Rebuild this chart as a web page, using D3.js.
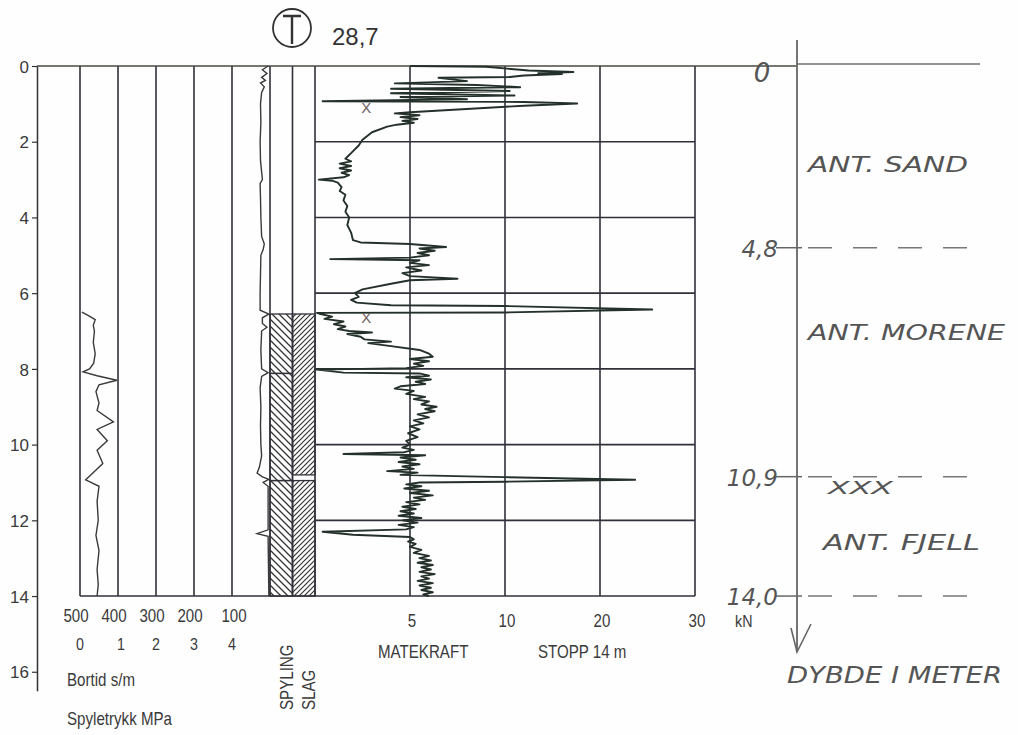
<!DOCTYPE html>
<html><head><meta charset="utf-8">
<script src="https://cdn.jsdelivr.net/npm/d3@7"></script>
<style>
body{margin:0;background:#fff;}
svg{display:block;background:#fefefe;}
text{font-family:"Liberation Sans",Arial,sans-serif;fill:#3a3a3a;}
.hand{font-family:"DejaVu Sans",sans-serif;font-style:italic;font-weight:300;fill:#555;}
</style></head><body>
<svg id="c" width="1018" height="735"></svg>
<script>
// ---------- data ----------
const depthTicks=[0,2,4,6,8,10,12,14,16];
const bortidTicks=[500,400,300,200,100];
const bortidLines=[500,400,300,200,100,0];
const spyleTicks=[0,1,2,3,4];
const kraftTicks=[5,10,20,30];
const kraftGrid=[2,4,6,8,10,12];
const columns=["SPYLING","SLAG"];
const spylingIntervals=[[6.55,8.12],[8.12,10.95],[10.95,14]];
const slagIntervals=[[6.55,10.8],[10.95,14]];
const stoneMarks=[[1.08,2.7],[6.62,2.7]];
const boundaries=[4.8,10.9,14.0];
const boundaryLabels=["4,8","10,9","14,0"];
const layerNames=["ANT. SAND","ANT. MORENE","ANT. FJELL"];
const title="28,7";

// matekraft [depth m, kN]
const matekraft=[
[0.00,5.0],[0.02,9.0],[0.12,12.5],[0.16,17.2],[0.19,13.5],[0.21,16.0],[0.25,12.0],[0.29,10.5],[0.31,6.5],
[0.40,8.0],[0.46,4.2],[0.50,8.5],[0.56,11.6],[0.60,4.0],[0.66,10.5],[0.72,4.0],[0.78,11.0],[0.82,4.5],
[0.88,8.0],[0.93,0.4],[0.95,12.0],[0.99,17.6],[1.05,12.0],[1.22,5.0],[1.25,4.2],[1.30,5.5],[1.35,4.5],
[1.40,5.4],[1.45,4.6],[1.50,5.2],[1.55,4.3],[1.60,3.8],[1.75,3.0],[1.95,2.5],[2.10,2.3],[2.30,1.9],
[2.45,1.6],[2.52,1.9],[2.58,1.3],[2.64,1.9],[2.70,1.3],[2.76,1.9],[2.82,1.4],[2.88,1.8],[2.94,1.5],
[3.00,0.2],[3.03,0.9],[3.08,1.2],[3.20,1.4],[3.30,1.3],[3.40,1.6],[3.55,1.5],[3.70,1.7],[3.85,1.6],
[4.00,1.8],[4.20,1.7],[4.40,1.9],[4.60,2.0],[4.66,2.4],[4.70,5.0],[4.78,6.9],[4.82,5.5],[4.88,6.3],
[4.94,5.4],[5.00,6.0],[5.06,5.0],[5.10,0.8],[5.13,5.5],[5.20,5.0],[5.26,6.0],[5.32,4.8],[5.40,5.6],
[5.47,4.6],[5.55,5.0],[5.62,7.5],[5.66,5.0],[5.75,4.0],[5.90,2.5],[6.00,2.1],[6.10,2.3],[6.18,1.9],
[6.25,2.2],[6.32,4.0],[6.34,10.0],[6.43,25.5],[6.51,10.0],[6.52,0.1],[6.55,0.3],[6.62,0.9],[6.68,0.5],
[6.75,1.5],[6.82,1.0],[6.88,1.6],[6.95,1.2],[7.00,1.8],[7.04,3.0],[7.08,1.7],[7.15,2.4],[7.22,2.6],
[7.28,4.0],[7.32,2.8],[7.40,4.0],[7.50,5.5],[7.60,6.0],[7.68,6.2],[7.74,5.0],[7.80,6.0],[7.86,5.2],
[7.92,5.7],[7.98,4.8],[8.02,0.1],[8.10,1.5],[8.12,5.5],[8.18,6.0],[8.22,4.8],[8.28,6.1],[8.34,5.3],
[8.40,5.8],[8.46,4.5],[8.52,4.2],[8.58,5.2],[8.66,4.8],[8.74,5.8],[8.80,5.2],[8.86,6.0],[8.94,5.6],
[9.00,6.4],[9.06,5.8],[9.12,6.3],[9.20,5.4],[9.28,6.0],[9.36,5.2],[9.44,5.7],[9.52,5.0],[9.60,5.5],
[9.70,4.9],[9.80,5.4],[9.90,4.8],[10.00,5.0],[10.08,4.6],[10.14,5.2],[10.20,4.7],[10.25,1.5],[10.28,5.8],
[10.34,4.5],[10.40,5.3],[10.46,4.4],[10.52,5.5],[10.58,4.6],[10.64,5.2],[10.70,3.8],[10.74,5.4],
[10.80,4.5],[10.84,8.0],[10.86,10.0],[10.93,23.7],[10.98,10.0],[11.00,5.5],[11.05,4.8],[11.10,5.6],
[11.16,4.7],[11.22,6.0],[11.28,5.0],[11.34,6.2],[11.40,5.2],[11.46,5.8],[11.52,4.8],[11.58,5.5],
[11.64,4.6],[11.70,5.3],[11.76,4.5],[11.82,5.2],[11.88,4.4],[11.94,5.6],[12.00,4.6],[12.06,5.4],
[12.12,4.4],[12.18,5.2],[12.24,4.8],[12.30,0.4],[12.38,2.0],[12.44,5.0],[12.50,5.2],[12.56,4.9],
[12.62,5.3],[12.70,5.0],[12.78,5.6],[12.86,5.2],[12.94,6.0],[13.00,5.5],[13.06,6.1],[13.12,5.4],
[13.18,6.2],[13.24,5.6],[13.30,6.1],[13.36,5.5],[13.42,6.3],[13.48,5.6],[13.54,6.0],[13.60,5.4],
[13.66,6.2],[13.72,5.5],[13.78,6.1],[13.84,5.6],[13.90,6.2],[13.96,5.7],[14.00,6.0]
];
// bortid [depth m, s/m]
const bortid=[
[0.00,5],[0.10,20],[0.20,8],[0.30,22],[0.38,12],[0.45,25],[0.55,15],[0.70,22],[1.00,25],[1.50,24],
[2.00,26],[2.50,25],[3.00,20],[3.10,26],[3.50,25],[4.00,24],[4.50,22],[4.70,15],[4.85,18],[5.00,24],
[5.50,25],[6.00,26],[6.45,26],[6.55,3],[6.65,20],[6.80,20],[6.90,8],[7.00,22],[7.50,24],[8.00,22],
[8.10,5],[8.20,22],[8.50,26],[9.00,24],[9.50,25],[10.00,24],[10.30,22],[10.60,28],[10.75,34],
[10.85,20],[10.92,3],[11.00,18],[11.10,5],[11.50,5],[12.00,5],[12.25,5],[12.35,34],[12.42,5],[14.00,3]
];
// spyletrykk [depth m, MPa]
const spyletrykk=[
[6.50,0.05],[6.58,0.2],[6.70,0.4],[6.85,0.35],[7.00,0.38],[7.30,0.35],[7.60,0.4],[7.85,0.36],[8.00,0.25],
[8.08,0.08],[8.18,0.45],[8.30,0.97],[8.42,0.5],[8.60,0.42],[8.90,0.5],[9.10,0.45],[9.40,0.88],[9.60,0.45],
[9.90,0.72],[10.15,0.45],[10.50,0.6],[10.93,0.15],[11.10,0.5],[11.50,0.45],[12.00,0.48],[12.40,0.42],
[12.80,0.5],[13.30,0.45],[13.70,0.48],[14.00,0.45]
];

// ---------- scales ----------
const svg=d3.select("#c");
const y=d3.scaleLinear().domain([0,16.5]).range([66,690.7]);
const xK=d3.scaleLinear().domain([0,5,10,20,30]).range([315,410,505,600,695]);
const xB=d3.scaleLinear().domain([500,0]).range([80,270]);
const xS=d3.scaleLinear().domain([0,5]).range([80,270]);
const xC=d3.scaleBand().domain(columns).range([270,315]);
const ink="#30303a";

// patterns
const defs=svg.append("defs");
const p1=defs.append("pattern").attr("id","hb").attr("patternUnits","userSpaceOnUse").attr("width",7).attr("height",7);
p1.append("path").attr("d","M0,0L7,7M-1,6L1,8M6,-1L8,1").attr("stroke","#333").attr("stroke-width",1.3);
const p2=defs.append("pattern").attr("id","hf").attr("patternUnits","userSpaceOnUse").attr("width",5).attr("height",5);
p2.append("path").attr("d","M0,5L5,0M-1,1L1,-1M4,6L6,4").attr("stroke","#333").attr("stroke-width",1.2);

// hatched columns
function cols(intervals,col,pat){
  svg.append("g").selectAll("rect").data(intervals).join("rect")
    .attr("x",xC(col)).attr("width",xC.bandwidth())
    .attr("y",d=>y(d[0])).attr("height",d=>y(d[1])-y(d[0]))
    .attr("fill","url(#"+pat+")").attr("stroke",ink).attr("stroke-width",1.3);
}
cols(spylingIntervals,"SPYLING","hb");
cols(slagIntervals,"SLAG","hf");

// grid
const g=svg.append("g").attr("stroke",ink).attr("stroke-width",1.6);
g.selectAll(".vb").data(bortidLines).join("line")
  .attr("x1",d=>xB(d)).attr("x2",d=>xB(d)).attr("y1",y(0)).attr("y2",y(14));
g.append("line").attr("x1",xC("SLAG")).attr("x2",xC("SLAG")).attr("y1",y(0)).attr("y2",y(14));
g.selectAll(".vk").data([0].concat(kraftTicks)).join("line")
  .attr("x1",d=>xK(d)).attr("x2",d=>xK(d)).attr("y1",y(0)).attr("y2",y(14));
g.selectAll(".hk").data(kraftGrid).join("line")
  .attr("x1",xK(0)).attr("x2",xK(30)).attr("y1",d=>y(d)).attr("y2",d=>y(d));
g.append("line").attr("x1",xB(500)).attr("x2",xK(30)).attr("y1",y(14)).attr("y2",y(14));
g.append("line").attr("x1",37).attr("x2",797).attr("y1",y(0)).attr("y2",y(0)).attr("stroke","#4a4a40");

// y axis
const ax=svg.append("g").attr("transform","translate(37,0)")
  .call(d3.axisLeft(y).tickValues(depthTicks).tickSize(5).tickSizeOuter(0).tickPadding(3));
ax.attr("font-size",17).attr("font-family","Liberation Sans, Arial, sans-serif").attr("color","#333");
ax.select(".domain").attr("stroke-width",1.5);
ax.selectAll(".tick line").attr("stroke-width",1.2);
ax.selectAll(".tick text").attr("dy","0.36em");

// curves
const lineK=d3.line().x(d=>xK(d[1])).y(d=>y(d[0]));
svg.append("path").datum(matekraft).attr("d",lineK).attr("fill","none")
  .attr("stroke","#24302a").attr("stroke-width",1.9).attr("stroke-linejoin","round");
svg.append("path").datum(bortid).attr("d",d3.line().x(d=>xB(d[1])).y(d=>y(d[0]))).attr("fill","none")
  .attr("stroke","#3a3a3a").attr("stroke-width",1.4);
svg.append("path").datum(spyletrykk).attr("d",d3.line().x(d=>xS(d[1])).y(d=>y(d[0]))).attr("fill","none")
  .attr("stroke","#3a3a3a").attr("stroke-width",1.4);

// stone marks
svg.selectAll(".xm").data(stoneMarks).join("text")
  .attr("x",d=>xK(d[1])).attr("y",d=>y(d[0])+6).attr("text-anchor","middle")
  .attr("font-size",15).style("fill","#6d5f5f").text("X");

// condensed text helper
function ct(x,yy,t,size,anchor,extra){
  return svg.append("text").attr("transform","translate("+x+","+yy+")"+(extra||"")+" scale(0.84,1)")
    .attr("font-size",size).attr("text-anchor",anchor||"start").text(t);
}
bortidTicks.forEach((v,i)=>ct(xB(v)-(i===4?-2:4),622,v,18,"middle"));
spyleTicks.forEach((v,i)=>ct(xS(v)+(i===1?3:0),650,v,17,"middle"));
ct(67,686,"Bortid s/m",18);
ct(67,725,"Spyletrykk MPa",18);
ct(xC("SPYLING")+xC.bandwidth(),710,"SPYLING",18,"start"," rotate(-90)");
ct(xC("SLAG")+xC.bandwidth(),710,"SLAG",18,"start"," rotate(-90)");
kraftTicks.forEach(v=>ct(xK(v)+2,627,v,18,"middle"));
ct(735,627,"kN",17);
ct(378,658,"MATEKRAFT",18);
ct(538,658,"STOPP 14 m",18);

// title
svg.append("circle").attr("cx",292).attr("cy",28).attr("r",19).attr("fill","none").attr("stroke","#333").attr("stroke-width",1.8);
svg.append("path").attr("d","M283,16H301M292,16V44").attr("stroke","#333").attr("stroke-width",2.4).attr("fill","none");
svg.append("text").attr("x",332).attr("y",45).attr("font-size",24).style("fill","#333").text(title);

// handwritten annotations
const h=svg.append("g");
h.append("line").attr("x1",797).attr("x2",980).attr("y1",y(0)-2).attr("y2",y(0)-2).attr("stroke","#707070").attr("stroke-width",1.4);
h.append("line").attr("x1",797).attr("x2",797).attr("y1",40).attr("y2",652).attr("stroke","#666").attr("stroke-width",1.8);
h.append("path").attr("d","M791,628L797,652L811,624").attr("fill","none").attr("stroke","#666").attr("stroke-width",1.6);
h.append("text").attr("class","hand").attr("x",762).attr("y",82).attr("font-size",26).attr("text-anchor","middle").text("0");
boundaries.forEach((b,i)=>{
  const yy=y(b)-(i===1?2:0);
  h.append("line").attr("x1",776).attr("x2",802).attr("y1",yy).attr("y2",yy).attr("stroke","#666").attr("stroke-width",1.5);
  h.append("line").attr("x1",808).attr("x2",975).attr("y1",yy).attr("y2",yy).attr("stroke","#777").attr("stroke-width",1.5)
    .attr("stroke-dasharray","24,21");
  h.append("text").attr("class","hand").attr("x",778).attr("y",yy+9).attr("font-size",23).attr("text-anchor","end").text(boundaryLabels[i]);
});
const namePos=[[808,172,160],[808,340,197],[823,550,157]];
layerNames.forEach((n,i)=>{
  h.append("text").attr("class","hand").attr("x",namePos[i][0]).attr("y",namePos[i][1]).attr("font-size",22)
    .attr("textLength",namePos[i][2]).attr("lengthAdjust","spacingAndGlyphs").text(n);
});
h.append("text").attr("class","hand").attr("x",828).attr("y",494).attr("font-size",17)
  .attr("textLength",65).attr("lengthAdjust","spacingAndGlyphs").text("XXX");
h.append("text").attr("class","hand").attr("x",787).attr("y",683).attr("font-size",23)
  .attr("textLength",215).attr("lengthAdjust","spacingAndGlyphs").text("DYBDE I METER");
</script>
</body></html>
